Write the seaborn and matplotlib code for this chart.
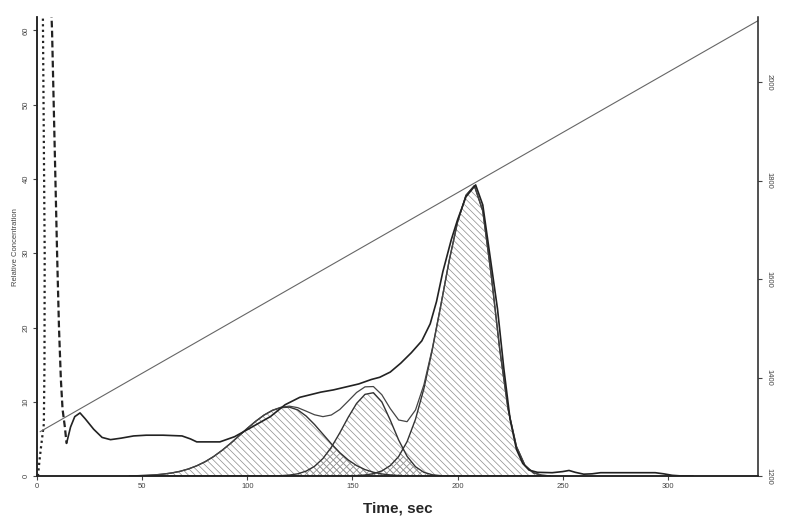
# ----------------------------------------
# Chromatogram with fitted peaks and temperature ramp
# ----------------------------------------

import numpy as np
import matplotlib
matplotlib.use("Agg")
import matplotlib.pyplot as plt
import seaborn as sns

# measured signal (time in sec, relative concentration)
data_time = [14.1, 16, 18, 20.5, 23, 27, 31, 35, 40, 46, 52, 60, 69, 73, 76, 87,
             94, 101, 106, 111, 118, 125, 135, 141, 147, 153, 159, 163, 168, 173,
             178, 183, 187, 190, 193, 197, 200, 204, 208.6, 212, 216, 219, 222,
             225, 228, 231, 234, 238, 245, 250, 253, 256, 260, 264, 268, 280, 294,
             298, 302, 306, 312]
data_conc = [4.4, 6.6, 8.0, 8.5, 7.7, 6.3, 5.2, 4.9, 5.1, 5.4, 5.5, 5.5, 5.4, 5.0,
             4.6, 4.6, 5.3, 6.4, 7.2, 8.0, 9.6, 10.6, 11.3, 11.6, 12.0, 12.4, 13.0,
             13.3, 14.0, 15.2, 16.6, 18.2, 20.5, 23.5, 27.5, 31.8, 34.5, 37.6, 39.2,
             36.5, 28.5, 22.5, 14.5, 7.6, 3.6, 1.7, 0.8, 0.5, 0.45, 0.6, 0.75, 0.5,
             0.25, 0.3, 0.45, 0.45, 0.45, 0.3, 0.1, 0.02, 0.0]

# early injection spikes (rising dotted side, falling dashed side)
spike_up_time = [0.5, 1.2, 2.0, 3.3, 3.6, 3.7, 3.3, 2.9, 2.8]
spike_up_conc = [0, 2, 4, 7, 15, 30, 45, 60, 64]
spike_down_time = [6.7, 7.2, 8.0, 8.8, 9.6, 10.5, 11.4, 12.2, 13.3, 14.1]
spike_down_conc = [64, 60, 50, 40, 30, 20, 13, 9, 6.6, 4.4]

# fitted peak components on a common time grid (44 ... 244 sec, step 4)
fit_time = np.arange(44, 248, 4)
peak1 = [0.03, 0.05, 0.09, 0.15, 0.26, 0.41, 0.63, 0.95, 1.38, 1.93, 2.62, 3.45,
         4.38, 5.39, 6.41, 7.37, 8.21, 8.84, 9.21, 9.28, 8.91, 8.08, 6.94, 5.64,
         4.34, 3.15, 2.17, 1.41, 0.87, 0.51, 0.28, 0.15, 0.07, 0.03, 0, 0, 0, 0,
         0, 0, 0, 0, 0, 0, 0, 0, 0, 0, 0, 0, 0]
peak2 = [0, 0, 0, 0, 0, 0, 0, 0, 0, 0, 0, 0, 0, 0, 0, 0, 0, 0.02, 0.05, 0.13,
         0.30, 0.66, 1.31, 2.36, 3.88, 5.81, 7.90, 9.78, 11.00, 11.22, 9.98,
         7.54, 4.85, 2.66, 1.25, 0.50, 0.17, 0.05, 0, 0, 0, 0, 0, 0, 0, 0, 0, 0,
         0, 0, 0]
peak3 = [0, 0, 0, 0, 0, 0, 0, 0, 0, 0, 0, 0, 0, 0, 0, 0, 0, 0, 0, 0, 0, 0, 0,
         0, 0, 0, 0.02, 0.06, 0.14, 0.32, 0.69, 1.40, 2.63, 4.63, 7.64, 11.78,
         17.0, 22.9, 28.97, 34.2, 37.8, 39.1, 35.7, 27.1, 17.2, 9.06, 3.98, 1.46,
         0.44, 0.11, 0.02]

# temperature ramp (right axis)
ramp_time = [1.5, 343]
ramp_temp = [1290, 2125]

peak1 = np.array(peak1)
peak2 = np.array(peak2)
peak3 = np.array(peak3)
fit_sum = peak1 + peak2 + peak3

# ----------------------------------------
# Plot
# ----------------------------------------
sns.set_style("ticks")
plt.rcParams["font.family"] = ["Liberation Sans", "DejaVu Sans"]
plt.rcParams["hatch.linewidth"] = 0.5
plt.rcParams["hatch.color"] = "#8c8c8c"

fig, ax = plt.subplots(figsize=(7.85, 5.18), dpi=100)
fig.subplots_adjust(left=0.047, right=0.966, bottom=0.081, top=0.967)

dense = "\\" * 5
cross = "/" * 5
for comp in (peak1, peak2, peak3):
    ax.fill_between(fit_time, 0, comp, facecolor="none", edgecolor="#8c8c8c",
                    hatch=dense, linewidth=0)
ax.fill_between(fit_time, 0, np.minimum(peak1, peak2), facecolor="none",
                edgecolor="#8c8c8c", hatch=cross, linewidth=0)
ax.fill_between(fit_time, 0, np.minimum(peak2, peak3), facecolor="none",
                edgecolor="#8c8c8c", hatch=cross, linewidth=0)

for comp in (peak1, peak2, peak3):
    sns.lineplot(x=fit_time, y=comp, ax=ax, color="#333333", linewidth=1.0)
sns.lineplot(x=fit_time, y=fit_sum, ax=ax, color="#444444", linewidth=0.9)
sns.lineplot(x=data_time, y=data_conc, ax=ax, color="#222222", linewidth=1.2)

ax.plot(spike_up_time, spike_up_conc, color="#222222", linewidth=1.6,
        linestyle=(0, (1, 1.5)))
ax.plot(spike_down_time, spike_down_conc, color="#222222", linewidth=1.6,
        linestyle=(0, (3, 1.5)))

ax.set_xlim(0, 343)
ax.set_ylim(0, 61.8)
ax.set_xticks([0, 50, 100, 150, 200, 250, 300])
ax.set_yticks([0, 10, 20, 30, 40, 50, 60])
ax.tick_params(axis="both", labelsize=5.5, length=3, width=0.8, pad=2,
               colors="#444444")
ax.tick_params(axis="y", labelrotation=90)
for lab in ax.get_yticklabels():
    lab.set_verticalalignment("center")
ax.set_xlabel("Time, sec", fontsize=11, fontweight="bold", labelpad=8)
ax.set_ylabel("Relative Concentration", fontsize=5.5, color="#444444", labelpad=3)

# right axis for temperature
ax2 = ax.twinx()
sns.lineplot(x=ramp_time, y=ramp_temp, ax=ax2, color="#666666", linewidth=0.8)
ax2.set_ylim(1200, 2132)
ax2.set_yticks([1200, 1400, 1600, 1800, 2000])
ax2.tick_params(axis="y", labelsize=5.5, length=3, width=0.8, pad=2,
                colors="#444444", labelrotation=270)
for lab in ax2.get_yticklabels():
    lab.set_verticalalignment("center")

for a in (ax, ax2):
    a.spines["top"].set_visible(False)
    for s in ("left", "bottom", "right"):
        a.spines[s].set_linewidth(1.1)
        a.spines[s].set_color("#222222")
ax.spines["right"].set_visible(False)

plt.savefig("out.png", dpi=100)
